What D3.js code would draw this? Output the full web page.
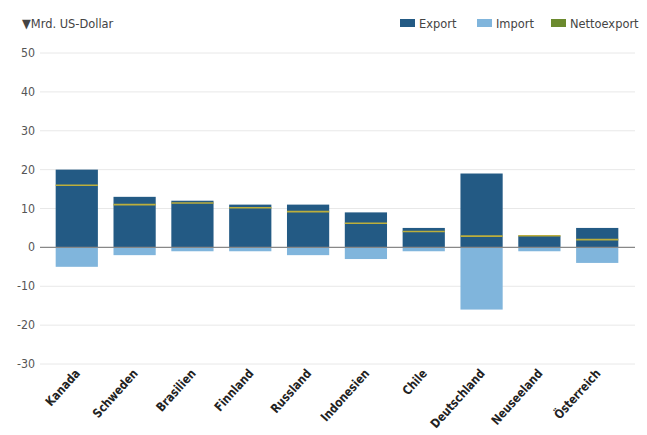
<!DOCTYPE html>
<html><head><meta charset="utf-8">
<script src="https://cdn.jsdelivr.net/npm/d3@7"></script>
<style>
body{margin:0;background:#fff;}
text{font-family:"DejaVu Sans",sans-serif;}
</style></head>
<body><svg id="c" width="647" height="435"></svg>
<script>
const categories = ["Kanada","Schweden","Brasilien","Finnland","Russland","Indonesien","Chile","Deutschland","Neuseeland","Österreich"];
const exportVals = [20,13,12,11,11,9,5,19,3,5];
const importVals = [-5,-2,-1,-1,-2,-3,-1,-16,-1,-4];
const nettoVals = [16,11,11.4,10.2,9.2,6.2,4.1,2.9,3,2];
const yTicks = [50,40,30,20,10,0,-10,-20,-30];
const seriesNames = ["Export","Import","Nettoexport"];
const colors = {Export:"#235a84", Import:"#80b5dc", Nettoexport:"#6b8a2e", line:"#bcae3c"};

const svg = d3.select("#c");
const y = d3.scaleLinear().domain([-30,50]).range([364,53]);
const x = d3.scaleBand().domain(categories).range([47,627]).paddingInner(0.27).paddingOuter(0.15);

svg.append("g").selectAll("line").data(yTicks.filter(d=>d!==0)).join("line")
  .attr("x1",40).attr("x2",635).attr("y1",d=>y(d)).attr("y2",d=>y(d))
  .attr("stroke","#e8e8e8").attr("stroke-width",1);
svg.append("g").selectAll("text").data(yTicks).join("text")
  .attr("transform",d=>`translate(35,${y(d)+4}) scale(0.85,1)`).attr("text-anchor","end")
  .attr("font-size",13).attr("fill","#555").text(d=>d);

const g = svg.append("g");
g.selectAll(".ex").data(categories).join("rect")
  .attr("x",d=>x(d)).attr("width",x.bandwidth())
  .attr("y",(d,i)=>y(exportVals[i])).attr("height",(d,i)=>y(0)-y(exportVals[i]))
  .attr("fill",colors.Export);
g.selectAll(".im").data(categories).join("rect")
  .attr("x",d=>x(d)).attr("width",x.bandwidth())
  .attr("y",y(0)).attr("height",(d,i)=>y(importVals[i])-y(0))
  .attr("fill",colors.Import);
svg.append("line").attr("x1",40).attr("x2",635).attr("y1",y(0)).attr("y2",y(0))
  .attr("stroke","#888").attr("stroke-width",1.2);
g.selectAll(".ne").data(categories).join("line")
  .attr("x1",d=>x(d)).attr("x2",d=>x(d)+x.bandwidth())
  .attr("y1",(d,i)=>y(nettoVals[i])).attr("y2",(d,i)=>y(nettoVals[i]))
  .attr("stroke",colors.line).attr("stroke-width",1.6);

svg.append("g").selectAll("text").data(categories).join("text")
  .attr("transform",d=>`translate(${x(d)+x.bandwidth()/2+4},${374}) rotate(-48) scale(0.84,1)`)
  .attr("text-anchor","end").attr("font-size",12.5).attr("font-weight","bold").attr("fill","#222")
  .text(d=>d);

svg.append("text").attr("transform","translate(22,28) scale(0.88,1)").attr("font-size",13).attr("fill","#444").text("▼Mrd. US-Dollar");

const lx = [400,477,551];
const lg = svg.append("g").selectAll("g").data(seriesNames).join("g")
  .attr("transform",(d,i)=>`translate(${lx[i]},0)`);
lg.append("rect").attr("x",0).attr("y",19).attr("width",15).attr("height",8).attr("fill",d=>colors[d]);
lg.append("text").attr("transform","translate(19,28) scale(0.88,1)").attr("font-size",13).attr("fill","#444").text(d=>d);
</script></body></html>
